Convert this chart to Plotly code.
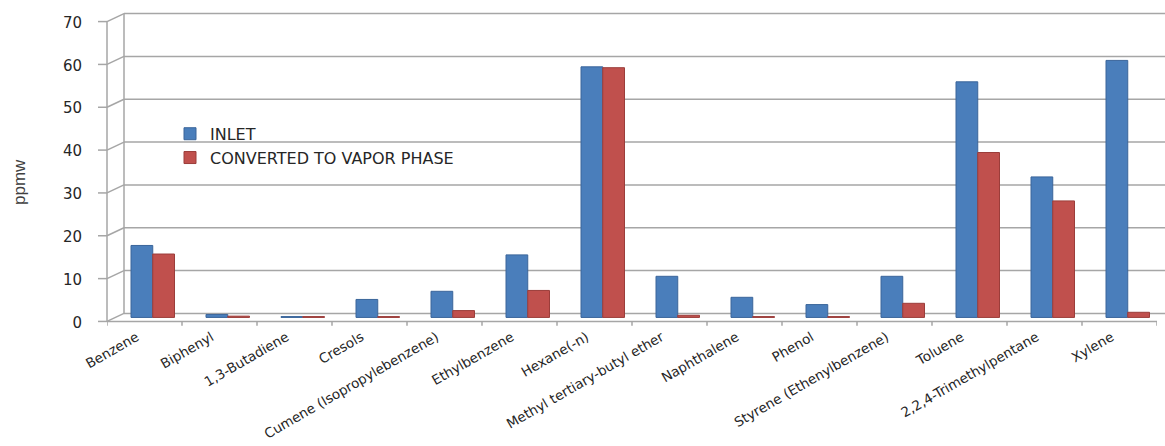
import plotly.graph_objects as go

categories = ["Benzene", "Biphenyl", "1,3-Butadiene", "Cresols", "Cumene (Isopropylebenzene)",
              "Ethylbenzene", "Hexane(-n)", "Methyl tertiary-butyl ether", "Naphthalene", "Phenol",
              "Styrene (Ethenylbenzene)", "Toluene", "2,2,4-Trimethylpentane", "Xylene"]
inlet = [16.8, 0.7, 0.2, 4.2, 6.1, 14.6, 58.5, 9.6, 4.7, 3.0, 9.6, 55.0, 32.8, 60.0]
converted = [14.8, 0.3, 0.2, 0.2, 1.6, 6.3, 58.3, 0.5, 0.2, 0.2, 3.3, 38.5, 27.2, 1.2]
yticks = [0, 10, 20, 30, 40, 50, 60, 70]

W, H = 1165, 446
L, R = 107, 8
px_per_unit = 4.271
y0_px = 317.0
ymin, ymax = -2, 72
top_px = y0_px - ymax * px_per_unit
bot_px = y0_px - ymin * px_per_unit
d = 4.0 / px_per_unit          # depth offset in data units
plot_w = W - L - R
plot_h = bot_px - top_px
back_dx = 17 / plot_w          # paper offset of back wall

grid_col = "#A6A6A6"

fig = go.Figure()
fig.add_trace(go.Bar(x=categories, y=inlet, name="INLET",
                     marker=dict(color="#4A7EBB", line=dict(color="#3A659A", width=1)),
                     width=0.29, offset=-0.18))
fig.add_trace(go.Bar(x=categories, y=converted, name="CONVERTED TO VAPOR PHASE",
                     marker=dict(color="#C0504D", line=dict(color="#9B3D3A", width=1)),
                     width=0.29, offset=0.11))

shapes = []
for v in yticks:
    shapes.append(dict(type="line", xref="paper", yref="y", x0=back_dx, x1=1 + R / plot_w,
                       y0=v + d, y1=v + d, line=dict(color=grid_col, width=1.5), layer="below"))
    shapes.append(dict(type="line", xref="paper", yref="y", x0=0, x1=back_dx,
                       y0=v - d, y1=v + d, line=dict(color=grid_col, width=1.5), layer="below"))
    shapes.append(dict(type="line", xref="paper", yref="y", x0=-9 / plot_w, x1=0,
                       y0=v - d, y1=v - d, line=dict(color=grid_col, width=1.5), layer="below"))
shapes.append(dict(type="line", xref="paper", yref="y", x0=0, x1=0, y0=-d, y1=yticks[-1] - d,
                   line=dict(color=grid_col, width=1.5), layer="below"))
shapes.append(dict(type="line", xref="paper", yref="y", x0=back_dx, x1=back_dx, y0=d,
                   y1=yticks[-1] + d, line=dict(color=grid_col, width=1.5), layer="below"))
shapes.append(dict(type="line", xref="paper", yref="y", x0=0, x1=1, y0=-d, y1=-d,
                   line=dict(color=grid_col, width=1.5), layer="below"))
for i in range(len(categories) + 1):
    shapes.append(dict(type="line", xref="x", yref="y", x0=i - 0.5, x1=i - 0.5,
                       y0=-d, y1=-d - 1.0, line=dict(color=grid_col, width=1.5), layer="below"))

fig.update_layout(
    width=W, height=H,
    margin=dict(l=L, r=R, t=top_px, b=H - bot_px, pad=0, autoexpand=False),
    paper_bgcolor="white", plot_bgcolor="white",
    barmode="group",
    showlegend=True,
    legend=dict(x=(170 - L) / plot_w, y=1 - (117 - top_px) / plot_h,
                xanchor="left", yanchor="top", bgcolor="rgba(0,0,0,0)",
                font=dict(family="DejaVu Sans", size=16, color="#262626"),
                itemwidth=30, tracegroupgap=0),
    shapes=shapes,
    xaxis=dict(range=[-0.5, 13.5], showgrid=False, showline=False, zeroline=False,
               automargin=False,
               ticks="", tickangle=-30, ticklabelstandoff=0, ticklabelshift=-8,
               tickfont=dict(family="DejaVu Sans", size=13.5, color="#262626")),
    yaxis=dict(range=[ymin, ymax], tickvals=yticks, showgrid=False, showline=False,
               automargin=False,
               zeroline=False, ticks="", ticklabelshift=5, ticklabelstandoff=24,
               tickfont=dict(family="DejaVu Sans", size=15, color="#262626")),
    annotations=[dict(text="ppmw", xref="paper", yref="paper", x=(19 - L) / plot_w,
                      y=1 - (182 - top_px) / plot_h, textangle=-90,
                      showarrow=False, xanchor="center", yanchor="middle",
                      font=dict(family="Liberation Sans Narrow, Liberation Sans", size=17,
                                color="#404040"))],
)

fig.write_html("out.html")
